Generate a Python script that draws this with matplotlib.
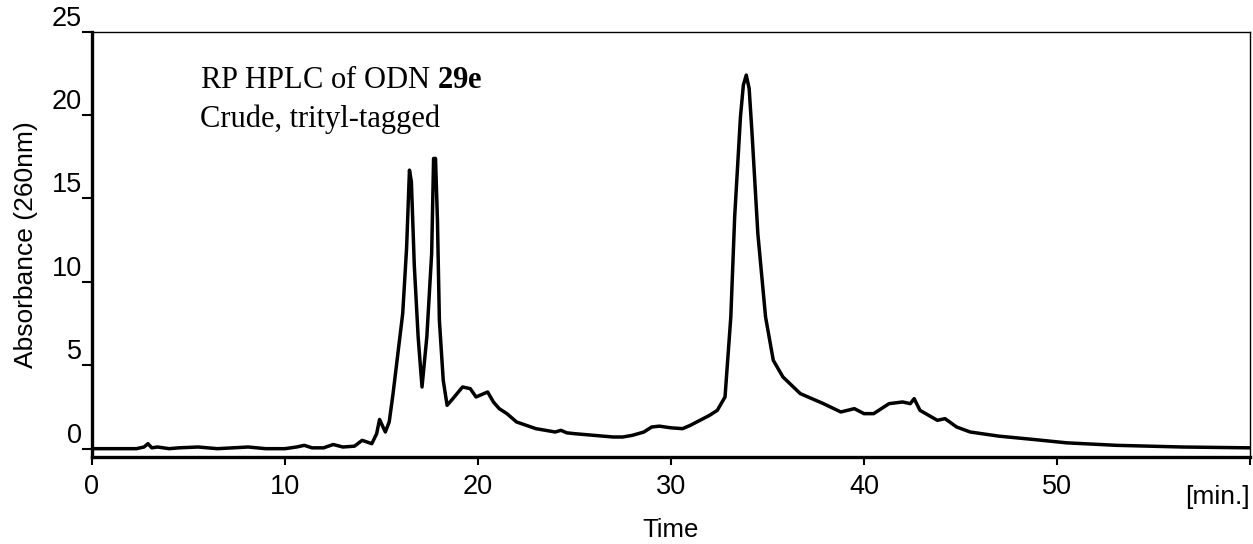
import matplotlib
matplotlib.use("Agg")
import matplotlib.pyplot as plt

# chromatogram trace (time in min, absorbance at 260nm)
time = [0, 2.3, 2.7, 2.9, 3.1, 3.4, 4.0, 4.5, 5.5, 6.5, 8.1, 9.0, 10.0, 10.6, 11.0, 11.4,
        12.0, 12.5, 13.0, 13.6, 14.0, 14.5, 14.75, 14.9, 15.2, 15.4, 15.6, 15.85, 16.1, 16.3,
        16.45, 16.55, 16.7, 16.9, 17.1, 17.35, 17.6, 17.7, 17.8, 17.9, 18.0, 18.2, 18.4, 18.7,
        19.2, 19.6, 19.9, 20.5, 20.8, 21.1, 21.5, 22.0, 23.0, 24.0, 24.3, 24.6, 25.0, 26.0,
        27.0, 27.5, 28.0, 28.6, 29.0, 29.4, 30.0, 30.6, 31.0, 31.5, 32.0, 32.4, 32.8, 33.1,
        33.3, 33.6, 33.75, 33.9, 34.05, 34.2, 34.5, 34.9, 35.3, 35.8, 36.7, 37.9, 38.8, 39.5,
        40.0, 40.5, 41.3, 42.0, 42.4, 42.6, 42.9, 43.5, 43.8, 44.2, 44.8, 45.5, 47.0, 48.8,
        50.5, 53.1, 56.5, 60.0]
absorbance = [0.0, 0.0, 0.1, 0.3, 0.05, 0.1, 0.0, 0.05, 0.1, 0.0, 0.1, 0.0, 0.0, 0.1, 0.2, 0.05,
              0.05, 0.25, 0.1, 0.15, 0.5, 0.3, 0.9, 1.75, 1.0, 1.6, 3.3, 5.7, 8.1, 12.0,
              16.7, 16.0, 11.0, 6.7, 3.7, 6.7, 11.7, 17.4, 17.4, 13.7, 7.7, 4.1, 2.6, 3.0,
              3.7, 3.6, 3.1, 3.4, 2.8, 2.4, 2.1, 1.6, 1.2, 1.0, 1.1, 0.95, 0.9, 0.8,
              0.7, 0.7, 0.8, 1.0, 1.3, 1.35, 1.25, 1.2, 1.4, 1.7, 2.0, 2.3, 3.1, 7.9,
              13.9, 19.9, 21.8, 22.4, 21.6, 18.9, 12.9, 7.9, 5.3, 4.3, 3.3, 2.7, 2.2, 2.4,
              2.1, 2.1, 2.7, 2.8, 2.7, 3.0, 2.3, 1.9, 1.7, 1.8, 1.3, 1.0, 0.75, 0.55,
              0.35, 0.2, 0.1, 0.05]

x_ticks = [0, 10, 20, 30, 40, 50, 60]
x_tick_labels = ["0", "10", "20", "30", "40", "50", ""]
y_ticks = [0, 5, 10, 15, 20, 25]

plt.rcParams['font.family'] = ['Liberation Sans', 'DejaVu Sans']
plt.rcParams['mathtext.fontset'] = 'custom'
plt.rcParams['mathtext.rm'] = 'Liberation Serif'
plt.rcParams['mathtext.bf'] = 'Liberation Serif:bold'

fig = plt.figure(figsize=(12.53, 5.44), dpi=100)
ax = fig.add_axes([0.0734, 0.1599, 0.9242, 0.7818])

ax.plot(time, absorbance, color="black", linewidth=2.5, solid_joinstyle="round", solid_capstyle="round")

ax.set_xlim(0, 60)
ax.set_ylim(-0.5, 25)
ax.set_xticks(x_ticks)
ax.set_xticklabels(x_tick_labels)
ax.set_yticks(y_ticks)

TICKSIZE = 19.5
FONTSIZE = 19
ax.tick_params(axis='x', direction='out', length=6, width=1.5, labelsize=TICKSIZE, pad=6)
ax.tick_params(axis='y', direction='out', length=7, width=1.5, labelsize=TICKSIZE, pad=0)
for lab in ax.get_yticklabels():
  lab.set_va('bottom')

ax.spines['left'].set_linewidth(2.4)
ax.spines['bottom'].set_linewidth(2.4)
ax.spines['top'].set_linewidth(1.0)
ax.spines['right'].set_linewidth(1.0)

ax.set_ylabel('Absorbance (260nm)', fontsize=FONTSIZE)
ax.yaxis.set_label_coords(-0.047, 0.5)
ax.set_xlabel('Time', fontsize=18.5)
ax.xaxis.set_label_coords(0.5, -0.143)
ax.text(1.0, -0.094, '[min.]', transform=ax.transAxes, ha='right', va='center', fontsize=FONTSIZE)

ax.text(0.0933, 0.8676, r'RP HPLC of ODN $\mathbf{29e}$', transform=ax.transAxes,
        ha='left', va='baseline', fontsize=22, family='Liberation Serif')
ax.text(0.0933, 0.776, 'Crude, trityl-tagged', transform=ax.transAxes,
        ha='left', va='baseline', fontsize=22, family='Liberation Serif')

fig.savefig('out.png', dpi=100)
